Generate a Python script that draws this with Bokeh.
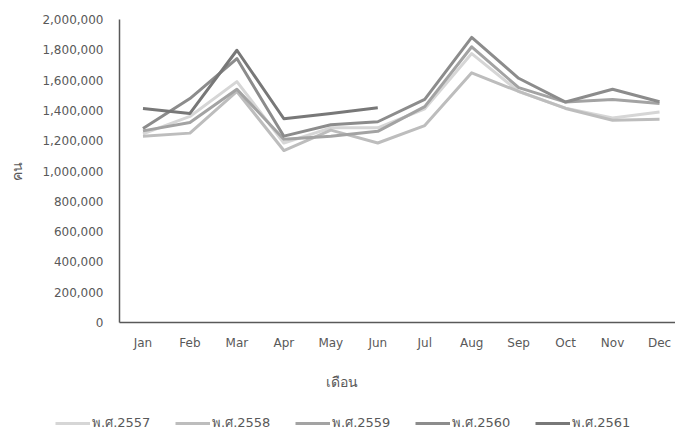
from bokeh.plotting import figure
from bokeh.models import Range1d, NumeralTickFormatter, FixedTicker, Legend, LegendItem, Title
from bokeh.embed import file_html
from bokeh.resources import INLINE

months = ["Jan", "Feb", "Mar", "Apr", "May", "Jun", "Jul", "Aug", "Sep", "Oct", "Nov", "Dec"]
series_names = ["พ.ศ.2557", "พ.ศ.2558", "พ.ศ.2559", "พ.ศ.2560", "พ.ศ.2561"]

v2557 = [1245000, 1360000, 1590000, 1185000, 1285000, 1285000, 1410000, 1775000, 1525000, 1415000, 1350000, 1390000]
v2558 = [1230000, 1250000, 1525000, 1135000, 1270000, 1185000, 1300000, 1648000, 1525000, 1413000, 1335000, 1342000]
v2559 = [1265000, 1320000, 1540000, 1210000, 1230000, 1262000, 1425000, 1820000, 1550000, 1455000, 1472000, 1446000]
v2560 = [1280000, 1478000, 1742000, 1230000, 1305000, 1325000, 1473000, 1882000, 1612000, 1455000, 1540000, 1457000]
v2561 = [1413000, 1380000, 1797000, 1345000, 1380000, 1418000]

y_ticks = [0, 200000, 400000, 600000, 800000, 1000000, 1200000, 1400000, 1600000, 1800000, 2000000]

colors = ["#d6d6d6", "#bdbdbd", "#a3a3a3", "#8c8c8c", "#787878"]
all_values = [v2557, v2558, v2559, v2560, v2561]

FONT = "DejaVu Sans"
TXT = "#595959"

xs_all = list(range(1, len(months) + 1))

# ---------------- main chart ----------------
p = figure(width=675, height=409, output_backend="svg", toolbar_location=None,
           x_range=Range1d(0.5, 12.34), y_range=Range1d(0, 2000000),
           min_border_left=119, min_border_top=19, min_border_right=0, min_border_bottom=87)
p.outline_line_color = None
p.xgrid.grid_line_color = None
p.ygrid.grid_line_color = None

for name, vals, c in zip(series_names, all_values, colors):
    p.line(xs_all[:len(vals)], vals, line_color=c, line_width=3, line_join="round")

p.yaxis.ticker = FixedTicker(ticks=y_ticks)
p.yaxis.formatter = NumeralTickFormatter(format="0,0")
p.yaxis.major_tick_line_color = None
p.yaxis.major_tick_out = 0
p.yaxis.major_tick_in = 0
p.yaxis.minor_tick_line_color = None
p.yaxis.axis_line_color = "#595959"
p.yaxis.axis_line_width = 1.5
p.yaxis.major_label_text_font = FONT
p.yaxis.major_label_text_font_size = "12px"
p.yaxis.major_label_text_color = TXT
p.yaxis.major_label_standoff = 16
p.yaxis.axis_label = "คน"
p.yaxis.axis_label_text_font = FONT
p.yaxis.axis_label_text_font_style = "normal"
p.yaxis.axis_label_text_font_size = "14px"
p.yaxis.axis_label_text_color = TXT
p.yaxis.axis_label_standoff = 14

p.xaxis.ticker = FixedTicker(ticks=xs_all)
p.xaxis.major_label_overrides = {i: m for i, m in zip(xs_all, months)}
p.xaxis.major_tick_line_color = None
p.xaxis.major_tick_out = 0
p.xaxis.major_tick_in = 0
p.xaxis.minor_tick_line_color = None
p.xaxis.axis_line_color = "#595959"
p.xaxis.axis_line_width = 1.5
p.xaxis.major_label_text_font = FONT
p.xaxis.major_label_text_font_size = "12px"
p.xaxis.major_label_text_color = TXT
p.xaxis.major_label_standoff = 13

xtitle = Title(text="เดือน", align="left", offset=206, standoff=38,
               text_font=FONT, text_font_size="14px", text_font_style="normal",
               text_color=TXT)
p.add_layout(xtitle, "below")

# ---------------- legend strip ----------------
lg = figure(width=675, height=24, output_backend="svg", toolbar_location=None,
            x_axis_type=None, y_axis_type=None,
            min_border_left=0, min_border_right=0, min_border_top=0, min_border_bottom=0)
lg.outline_line_color = None
lg.xgrid.grid_line_color = None
lg.ygrid.grid_line_color = None

items = []
for name, vals, c in zip(series_names, all_values, colors):
    r = lg.line(xs_all[:len(vals)], vals, line_color=c, line_width=3, visible=False)
    items.append(LegendItem(label=name, renderers=[r]))

legend = Legend(items=items, orientation="horizontal", location=(55, 0),
                glyph_width=35, glyph_height=16, label_height=16, label_standoff=2,
                label_width=62, spacing=21, padding=0, margin=0, border_line_color=None,
                background_fill_alpha=0, inactive_fill_alpha=0,
                label_text_font=FONT, label_text_font_size="13px", label_text_color=TXT)
lg.add_layout(legend, "center")

open("out.html", "w").write(file_html((p, lg), INLINE))
